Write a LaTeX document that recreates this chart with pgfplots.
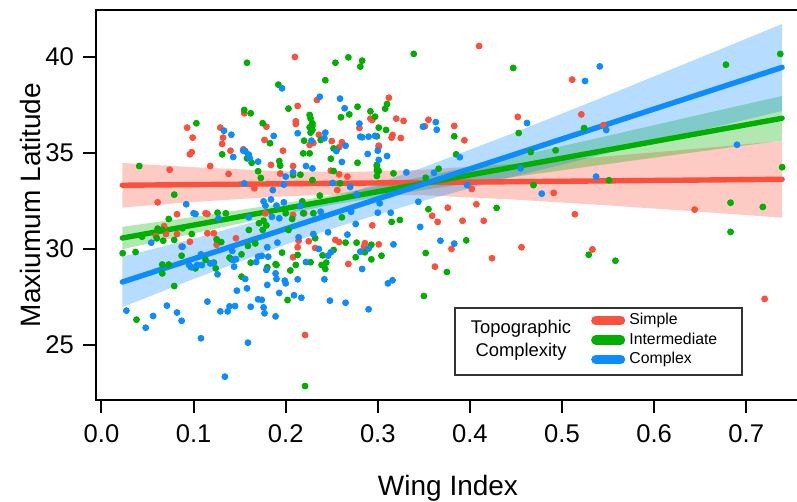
\documentclass[border=0pt]{standalone}
\usepackage{fontspec}
\setmainfont{Liberation Sans}
\usepackage{pgfplots}
\usepackage{pgfplotstable}
\pgfplotsset{compat=1.18}
\definecolor{sred}{HTML}{FA503C}
\definecolor{sgreen}{HTML}{00B000}
\definecolor{sblue}{HTML}{0C8CFF}

\pgfplotstableread{
x y
0.210 40.00
0.410 40.57
0.234 37.76
0.312 37.88
0.213 37.45
0.155 37.07
0.093 36.32
0.099 35.80
0.129 36.32
0.132 35.80
0.131 35.47
0.140 35.12
0.098 35.04
0.096 34.93
0.118 34.32
0.138 33.91
0.074 34.13
0.179 36.37
0.177 35.68
0.197 35.12
0.184 34.38
0.208 34.32
0.226 35.42
0.211 36.51
0.236 35.95
0.258 35.30
0.258 33.89
0.249 34.08
0.294 36.72
0.301 35.38
0.315 35.80
0.320 36.79
0.328 36.67
0.325 35.78
0.355 36.73
0.351 36.39
0.383 36.41
0.394 35.66
0.452 36.88
0.521 37.01
0.511 38.82
0.402 33.13
0.491 32.92
0.359 31.73
0.365 31.41
0.376 32.15
0.392 31.47
0.407 32.33
0.415 31.47
0.514 31.81
0.644 32.05
0.380 30.00
0.456 30.09
0.533 29.98
0.362 29.08
0.424 29.52
0.720 27.40
0.061 32.43
0.082 31.81
0.154 35.19
0.166 33.16
0.194 33.93
0.115 31.82
0.292 36.79
0.211 36.65
0.280 36.30
0.301 35.33
0.250 35.62
0.261 35.56
0.230 35.52
0.267 33.77
0.256 33.07
0.220 31.86
0.208 31.77
0.316 35.94
0.068 31.19
0.070 30.78
0.059 30.68
0.087 30.12
0.082 30.78
0.096 30.38
0.113 31.86
0.115 30.82
0.122 30.82
0.146 30.56
0.125 30.22
0.294 31.23
0.225 30.40
0.214 30.43
0.254 30.47
0.258 30.36
0.286 30.30
0.285 30.12
0.301 30.24
0.232 30.05
0.213 30.09
0.208 29.57
0.268 29.22
0.221 25.52
0.178 31.86
0.545 36.45
}\redpts

\pgfplotstableread{
x y
0.158 39.70
0.268 39.98
0.254 39.70
0.283 39.81
0.281 39.50
0.243 38.79
0.192 38.56
0.310 37.55
0.308 37.31
0.278 37.41
0.203 37.31
0.155 37.24
0.162 37.07
0.103 36.55
0.131 34.93
0.041 34.32
0.175 36.55
0.183 35.51
0.193 34.58
0.194 34.34
0.158 34.72
0.170 34.05
0.208 33.85
0.229 33.59
0.227 36.06
0.229 36.42
0.227 36.80
0.226 36.98
0.219 34.98
0.238 35.68
0.252 35.24
0.249 34.70
0.259 33.42
0.269 37.01
0.278 34.49
0.297 36.89
0.301 36.32
0.299 35.87
0.299 34.32
0.299 34.10
0.317 33.94
0.339 40.16
0.447 39.43
0.678 39.60
0.737 40.16
0.383 35.87
0.385 34.93
0.453 36.04
0.466 35.05
0.524 36.30
0.493 35.14
0.739 34.26
0.551 33.58
0.366 34.18
0.352 33.71
0.469 33.33
0.355 32.07
0.429 32.14
0.683 32.41
0.718 32.19
0.683 30.89
0.396 30.45
0.324 31.51
0.352 29.79
0.375 28.80
0.529 29.70
0.558 29.39
0.350 27.55
0.079 32.83
0.073 31.56
0.126 31.89
0.135 31.86
0.160 34.90
0.163 34.49
0.173 33.70
0.292 37.17
0.260 36.86
0.229 36.55
0.226 36.34
0.229 36.20
0.255 35.15
0.220 35.64
0.226 34.98
0.216 33.87
0.252 34.06
0.299 34.38
0.301 34.06
0.299 33.80
0.237 32.78
0.218 32.48
0.261 31.65
0.309 36.20
0.044 30.64
0.060 30.56
0.067 30.43
0.079 30.47
0.098 30.78
0.088 31.08
0.023 29.78
0.037 29.84
0.087 29.65
0.066 29.19
0.073 29.19
0.066 28.73
0.079 28.07
0.038 26.32
0.125 30.50
0.130 30.36
0.159 30.16
0.167 30.29
0.152 29.72
0.139 29.55
0.141 29.47
0.102 28.99
0.162 29.29
0.196 29.81
0.189 29.21
0.180 29.05
0.152 28.56
0.202 27.34
0.232 30.56
0.265 30.33
0.277 30.33
0.293 30.22
0.304 29.65
0.286 29.83
0.213 29.69
0.252 29.95
0.240 29.67
0.276 29.57
0.293 29.46
0.244 29.29
0.243 28.96
0.227 29.31
0.205 28.88
0.221 22.86
0.315 31.41
0.066 31.00
0.061 31.06
0.160 30.99
0.171 31.34
0.176 31.47
0.179 31.23
0.175 30.99
0.200 31.86
0.207 31.56
0.203 30.99
0.219 31.86
0.230 31.86
0.190 29.17
0.211 29.17
0.239 29.17
0.113 29.43
0.122 29.29
0.124 28.99
}\greenpts

\pgfplotstableread{
x y
0.196 38.37
0.237 37.93
0.259 37.83
0.264 37.33
0.133 36.16
0.141 35.95
0.187 35.89
0.154 35.12
0.170 34.55
0.208 33.99
0.200 33.77
0.222 34.32
0.229 34.20
0.213 36.03
0.243 36.06
0.255 35.10
0.265 35.38
0.261 34.53
0.251 33.44
0.280 36.53
0.281 35.85
0.289 34.95
0.290 35.85
0.300 35.12
0.310 34.84
0.349 36.37
0.363 36.61
0.364 36.21
0.389 34.78
0.462 36.56
0.455 34.20
0.525 38.75
0.541 39.51
0.548 36.20
0.690 35.43
0.537 33.77
0.331 33.99
0.361 33.97
0.397 33.33
0.478 32.88
0.344 32.46
0.346 31.15
0.368 30.43
0.383 30.28
0.092 32.33
0.100 31.86
0.143 34.79
0.156 35.10
0.159 34.93
0.161 34.72
0.155 33.42
0.186 33.07
0.198 33.35
0.184 32.58
0.176 32.48
0.178 32.26
0.190 32.26
0.198 32.43
0.102 31.82
0.160 31.65
0.127 31.60
0.228 35.64
0.242 35.77
0.283 35.82
0.297 35.89
0.301 34.64
0.270 33.23
0.277 32.85
0.302 32.38
0.271 31.94
0.300 31.89
0.216 32.24
0.238 31.94
0.314 31.89
0.054 30.33
0.097 29.06
0.027 26.79
0.056 26.51
0.048 25.90
0.071 27.05
0.082 26.69
0.087 26.26
0.108 29.72
0.142 29.90
0.146 29.47
0.109 29.16
0.121 29.25
0.144 29.08
0.126 28.68
0.168 29.32
0.170 29.60
0.174 29.64
0.181 29.60
0.180 30.09
0.191 30.33
0.179 28.91
0.189 28.73
0.190 28.44
0.200 28.21
0.156 28.44
0.147 27.83
0.158 27.95
0.180 28.13
0.193 27.71
0.115 27.26
0.129 26.75
0.137 26.75
0.139 27.01
0.145 27.03
0.162 26.99
0.170 27.38
0.174 27.35
0.176 26.96
0.177 26.65
0.189 26.49
0.108 25.35
0.159 25.12
0.134 23.35
0.276 31.30
0.267 30.75
0.246 30.87
0.230 30.78
0.214 30.61
0.290 30.02
0.281 29.86
0.236 30.00
0.249 29.83
0.246 29.65
0.222 29.32
0.283 28.96
0.213 28.42
0.242 28.42
0.209 27.59
0.217 27.46
0.248 27.31
0.265 27.20
0.290 26.86
0.317 30.24
0.311 28.21
0.316 28.37
0.199 28.35
0.095 29.17
0.098 29.05
0.104 29.17
0.118 29.25
0.143 29.43
0.185 31.68
0.193 31.60
0.088 30.12
}\bluepts

\begin{document}
\begin{tikzpicture}
\path[use as bounding box] (-48pt,-51pt) rectangle (350.5pt,200pt);
\begin{axis}[
  anchor=south west, at={(0pt,0pt)},
  scale only axis, width=352pt, height=195pt,
  xmin=-0.00597, xmax=0.7584, ymin=22.135, ymax=42.448,
  axis line style={line width=1pt},
  tick align=outside, major tick length=6.5pt,
  tick style={line width=1pt, black},
  xtick pos=left, ytick pos=left,
  xtick={0,0.1,0.2,0.3,0.4,0.5,0.6,0.7},
  xticklabels={0.0,0.1,0.2,0.3,0.4,0.5,0.6,0.7},
  ytick={25,30,35,40}, yticklabels={25,30,35,40},
  tick label style={font=\fontsize{12.8}{14}\selectfont},
  xticklabel style={yshift=-2.5pt},
  yticklabel style={xshift=-1pt},
  xlabel={Wing Index}, ylabel={Maxiumum Latitude},
  label style={font=\fontsize{14}{16}\selectfont},
  xlabel style={at={(axis description cs:0.5,-0.2256)}, anchor=center},
  ylabel style={at={(axis description cs:-0.09375,0.5)}, anchor=center},
  legend style={draw=none, fill=none, at={(rel axis cs:0.7023,0.1538)}, anchor=west,
    font=\fontsize{7.9}{9}\selectfont, row sep=0.95pt, column sep=1.3pt, inner sep=0pt,
    nodes={inner sep=0.6pt, text height=6pt, text depth=1.6pt}},
  legend cell align=left,
  legend image code/.code={\path (0pt,0pt) -- (17pt,0pt); \draw[#1, line width=4.75pt, line cap=round] (2.375pt,0pt) -- (14.625pt,0pt);},
]
\addplot[only marks, mark=*, mark size=1.5pt, color=sred, mark options={draw=none, fill=sred}, forget plot] table[x=x,y=y] {\redpts};
\addplot[only marks, mark=*, mark size=1.5pt, color=sgreen, mark options={draw=none, fill=sgreen}, forget plot] table[x=x,y=y] {\greenpts};
\addplot[only marks, mark=*, mark size=1.5pt, color=sblue, mark options={draw=none, fill=sblue}, forget plot] table[x=x,y=y] {\bluepts};

% confidence bands
\addplot[draw=none, fill=sred, fill opacity=0.3, forget plot] coordinates {
(0.0226,34.48) (0.1,34.26) (0.2,34.04) (0.27,34.01) (0.35,34.13) (0.45,34.44) (0.55,34.83) (0.65,35.24) (0.739,35.63)
(0.739,31.63) (0.65,31.94) (0.55,32.27) (0.45,32.57) (0.35,32.80) (0.27,32.85) (0.2,32.75) (0.1,32.45) (0.0226,32.16)} -- cycle;
\addplot[draw=none, fill=sgreen, fill opacity=0.3, forget plot] coordinates {
(0.0226,31.155) (0.1,31.67) (0.2,32.39) (0.25,32.80) (0.35,33.77) (0.45,34.82) (0.55,35.90) (0.65,37.00) (0.739,37.97)
(0.739,35.65) (0.65,35.08) (0.55,34.43) (0.45,33.77) (0.35,33.08) (0.25,32.30) (0.2,31.84) (0.1,30.81) (0.0226,29.985)} -- cycle;
\addplot[draw=none, fill=sblue, fill opacity=0.3, forget plot] coordinates {
(0.0226,29.59) (0.1,30.54) (0.2,31.87) (0.26,32.76) (0.35,34.26) (0.45,36.09) (0.55,38.01) (0.65,39.97) (0.739,41.72)
(0.739,37.19) (0.65,36.17) (0.55,35.00) (0.45,33.80) (0.35,32.52) (0.26,31.21) (0.2,30.23) (0.1,28.44) (0.0226,26.97)} -- cycle;

% regression lines
\addplot[sred, line width=2.7pt, line cap=round, forget plot] coordinates {(0.0226,33.32) (0.739,33.63)};
\addplot[sgreen, line width=2.7pt, line cap=round, forget plot] coordinates {(0.0226,30.57) (0.739,36.81)};
\addplot[sblue, line width=2.7pt, line cap=round, forget plot] coordinates {(0.0226,28.28) (0.739,39.46)};

\draw[line width=0.7pt, black!80, fill=white] (rel axis cs:0.510,0.0641) rectangle (rel axis cs:0.9176,0.2359);
\node[align=center, font=\fontsize{9.2}{11.35}\selectfont] at (rel axis cs:0.6037,0.1538) {Topographic\\Complexity};

\addlegendimage{sred}
\addlegendentry{Simple}
\addlegendimage{sgreen}
\addlegendentry{Intermediate}
\addlegendimage{sblue}
\addlegendentry{Complex}
\end{axis}
\end{tikzpicture}
\end{document}
